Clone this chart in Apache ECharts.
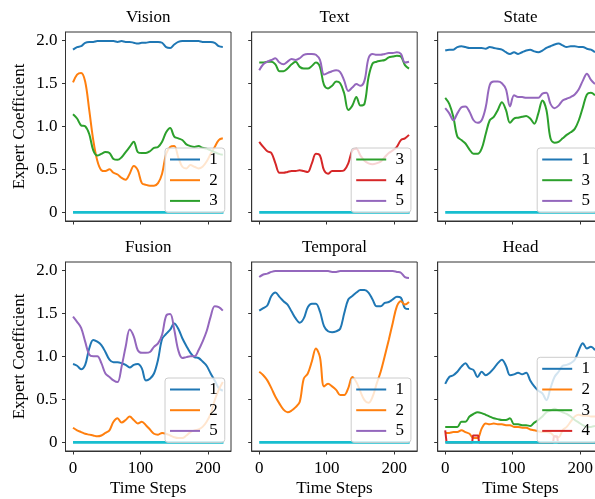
<!DOCTYPE html>
<html>
<head>
<meta charset="utf-8">
<title>Expert Coefficient</title>
<script src="https://cdn.jsdelivr.net/npm/echarts@6/dist/echarts.min.js"></script>
<style>
html,body{margin:0;padding:0;background:#fff;}
#chart{width:595px;height:499px;}
</style>
</head>
<body>
<div id="chart"></div>
<script>
// sampled time steps (every 6 steps)
var steps = [0,6,12,18,24,30,36,42,48,54,60,66,72,78,84,90,96,102,108,114,120,126,132,138,144,150,156,162,168,174,180,186,192,198,204,210,216,222];

var panelTitles = ['Vision','Text','State','Fusion','Temporal','Head'];
var xTickValues = [0,100,200];
var xTickLabels = ['0','100','200'];
var yTickValues = [0,0.5,1,1.5,2];
var yTickLabels = ['0','0.5','1.0','1.5','2.0'];

// Vision
var vision1 = [1.89,1.92,1.93,1.97,1.98,1.98,1.99,1.99,1.99,1.99,1.99,1.98,1.99,1.98,1.98,1.97,1.96,1.97,1.97,1.98,1.98,1.98,1.97,1.92,1.91,1.95,1.98,1.99,1.99,1.99,1.99,1.99,1.98,1.98,1.98,1.97,1.93,1.92];
var vision2 = [1.51,1.60,1.62,1.52,1.19,0.84,0.60,0.49,0.48,0.50,0.46,0.44,0.40,0.38,0.45,0.54,0.49,0.34,0.32,0.31,0.31,0.34,0.45,0.68,0.76,0.77,0.64,0.53,0.51,0.55,0.53,0.51,0.53,0.59,0.68,0.76,0.84,0.86];
var vision3 = [1.14,1.09,1.01,1.00,0.91,0.72,0.66,0.68,0.70,0.69,0.62,0.61,0.64,0.70,0.76,0.82,0.70,0.69,0.69,0.71,0.75,0.76,0.82,0.93,0.98,0.88,0.86,0.84,0.79,0.77,0.76,0.77,0.75,0.74,0.72,0.70,0.68,0.67];

// Text
var text3 = [1.74,1.74,1.75,1.75,1.72,1.64,1.64,1.67,1.72,1.75,1.69,1.67,1.67,1.70,1.74,1.69,1.48,1.44,1.47,1.52,1.50,1.38,1.19,1.24,1.34,1.24,1.26,1.57,1.73,1.75,1.76,1.77,1.80,1.81,1.82,1.81,1.71,1.67];
var text4 = [0.82,0.76,0.71,0.69,0.57,0.46,0.46,0.47,0.48,0.48,0.49,0.48,0.47,0.57,0.68,0.66,0.49,0.45,0.48,0.48,0.48,0.49,0.57,0.72,0.74,0.66,0.60,0.57,0.56,0.57,0.59,0.64,0.69,0.72,0.76,0.84,0.86,0.90];
var text5 = [1.65,1.72,1.75,1.77,1.79,1.74,1.72,1.75,1.78,1.77,1.79,1.83,1.84,1.84,1.83,1.77,1.60,1.62,1.64,1.65,1.63,1.53,1.41,1.45,1.49,1.47,1.53,1.79,1.84,1.83,1.83,1.84,1.85,1.85,1.86,1.84,1.74,1.75];

// State
var state1 = [1.88,1.89,1.89,1.92,1.93,1.92,1.91,1.91,1.91,1.91,1.90,1.92,1.91,1.90,1.89,1.86,1.84,1.86,1.84,1.86,1.88,1.89,1.87,1.86,1.88,1.91,1.93,1.95,1.96,1.94,1.92,1.93,1.93,1.92,1.92,1.90,1.89,1.86];
var state3 = [1.33,1.26,1.11,0.88,0.84,0.80,0.73,0.68,0.68,0.74,0.91,1.07,1.11,1.19,1.28,1.19,1.04,1.09,1.10,1.11,1.12,1.09,1.03,1.15,1.30,1.19,0.86,0.81,0.82,0.86,0.90,0.93,0.97,1.07,1.22,1.37,1.39,1.36];
var state5 = [1.21,1.15,1.07,1.15,1.22,1.23,1.17,1.07,1.04,1.07,1.22,1.48,1.52,1.52,1.50,1.43,1.23,1.36,1.34,1.34,1.33,1.33,1.33,1.33,1.38,1.39,1.26,1.21,1.24,1.30,1.32,1.34,1.37,1.43,1.53,1.61,1.54,1.49];

// Fusion
var fusion1 = [0.91,0.89,0.85,0.90,1.09,1.19,1.17,1.13,1.05,0.96,0.93,0.93,0.92,0.90,0.87,0.90,0.91,0.86,0.72,0.74,0.80,0.96,1.20,1.26,1.31,1.38,1.32,1.21,1.12,1.04,0.99,0.98,0.94,0.89,0.80,0.72,0.63,0.60];
var fusion2 = [0.17,0.14,0.12,0.10,0.09,0.08,0.07,0.08,0.11,0.14,0.24,0.28,0.23,0.26,0.30,0.26,0.22,0.24,0.20,0.15,0.10,0.09,0.11,0.10,0.08,0.06,0.05,0.05,0.08,0.12,0.14,0.15,0.18,0.24,0.33,0.49,0.61,0.70];
var fusion5 = [1.46,1.40,1.33,1.17,1.02,1.00,1.00,0.92,0.80,0.76,0.72,0.70,0.88,1.11,1.31,1.23,1.07,1.04,1.04,1.05,1.11,1.15,1.25,1.47,1.49,1.31,1.07,0.98,0.99,1.00,1.00,1.07,1.17,1.29,1.46,1.58,1.57,1.53];

// Temporal
var temporal1 = [1.53,1.56,1.59,1.70,1.74,1.69,1.64,1.60,1.52,1.44,1.39,1.44,1.57,1.61,1.61,1.52,1.35,1.29,1.28,1.29,1.32,1.50,1.66,1.70,1.74,1.77,1.77,1.74,1.66,1.58,1.58,1.62,1.63,1.66,1.69,1.68,1.56,1.55];
var temporal2 = [0.82,0.78,0.72,0.63,0.53,0.45,0.38,0.35,0.37,0.41,0.47,0.74,0.80,0.94,1.09,0.99,0.65,0.68,0.65,0.61,0.55,0.55,0.63,0.76,0.70,0.59,0.49,0.46,0.53,0.68,0.82,1.00,1.19,1.39,1.58,1.64,1.60,1.63];
var temporal5 = [1.92,1.95,1.96,1.98,1.99,1.99,1.99,1.99,1.99,1.99,1.99,1.99,1.99,1.99,1.99,1.99,1.99,1.99,1.98,1.98,1.99,1.99,1.99,1.99,1.99,1.99,1.99,1.99,1.99,1.99,1.99,1.99,1.99,1.99,1.98,1.97,1.92,1.91];

// Head
var head1 = [0.68,0.76,0.78,0.82,0.88,0.92,0.86,0.84,0.76,0.82,0.78,0.81,0.86,0.92,0.96,0.89,0.78,0.79,0.81,0.79,0.81,0.72,0.65,0.60,0.57,0.49,0.63,0.76,0.82,0.89,0.90,0.92,0.96,1.07,1.15,1.09,1.11,1.07];
var head2 = [0.11,0.11,0.12,0.12,0.14,0.12,0.10,0.05,0.05,0.16,0.22,0.21,0.22,0.21,0.21,0.20,0.20,0.18,0.18,0.17,0.17,0.15,0.14,0.13,0.12,0.12,0.11,0.07,0.06,0.14,0.18,0.24,0.30,0.32,0.31,0.31,0.30,0.30];
var head3 = [0.18,0.18,0.18,0.18,0.24,0.24,0.30,0.33,0.35,0.34,0.32,0.30,0.28,0.27,0.26,0.26,0.28,0.21,0.21,0.20,0.20,0.19,0.23,0.26,0.30,0.35,0.37,0.39,0.37,0.35,0.33,0.30,0.26,0.23,0.20,0.18,0.18,0.19];
// expert 4 sits on zero except a few short bumps
var head4X = [0,1,2,40,41,49,50,160,161,166,167,223];
var head4Y = [0.14,0.14,0,0,0.08,0.08,0,0,0.07,0.07,0,0];

// remaining experts stay at zero the whole run
var zeroX = [0,223];
var zeroY = [0,0];

var expertColors = {'1':'#1f77b4','2':'#ff7f0e','3':'#2ca02c','4':'#d62728','5':'#9467bd','0':'#17becf'};

var panels = [
    {lines:[['1',steps,vision1],['2',steps,vision2],['3',steps,vision3]], legend:['1','2','3']},
    {lines:[['3',steps,text3],['4',steps,text4],['5',steps,text5]], legend:['3','4','5']},
    {lines:[['1',steps,state1],['3',steps,state3],['5',steps,state5]], legend:['1','3','5']},
    {lines:[['1',steps,fusion1],['2',steps,fusion2],['5',steps,fusion5]], legend:['1','2','5']},
    {lines:[['1',steps,temporal1],['2',steps,temporal2],['5',steps,temporal5]], legend:['1','2','5']},
    {lines:[['1',steps,head1],['2',steps,head2],['3',steps,head3],['4',head4X,head4Y]], legend:['1','2','3','4']}
];

var FONT = '"Liberation Serif", "DejaVu Serif", serif';
var colLeft = [65.5, 251.7, 437.7];
var rowTop = [32, 262];
var gw = 165.5, gh = 189;
var legendTop = [148, 378];

function pairs(xs, ys){
    return xs.map(function(x, i){ return [x, ys[i]]; });
}

var grids = [], xAxes = [], yAxes = [], series = [], titles = [], legends = [];

panels.forEach(function(p, i){
    var col = i % 3, row = Math.floor(i / 3);
    grids.push({
        left: colLeft[col], top: rowTop[row], width: gw, height: gh,
        show: true, borderColor: '#333', borderWidth: 1, backgroundColor: 'transparent',
        containLabel: false, outerBoundsMode: 'none'
    });
    xAxes.push({
        gridIndex: i, type: 'value', min: -11.15, max: 234.15,
        axisLine: {show: true, onZero: false, lineStyle: {color: '#333', width: 1}},
        splitLine: {show: false},
        axisTick: {show: true, length: 3.5, customValues: xTickValues, lineStyle: {color: '#333', width: 1}},
        axisLabel: {
            show: row === 1, customValues: xTickValues, margin: 9,
            color: '#000', fontFamily: FONT, fontSize: 17,
            formatter: function(v){ return xTickLabels[xTickValues.indexOf(v)]; }
        },
        name: row === 1 ? 'Time Steps' : '', nameLocation: 'middle', nameGap: 29,
        nameTextStyle: {color: '#000', fontFamily: FONT, fontSize: 17}
    });
    yAxes.push({
        gridIndex: i, type: 'value', min: -0.1, max: 2.095,
        axisLine: {show: true, onZero: false, lineStyle: {color: '#333', width: 1}},
        splitLine: {show: false},
        axisTick: {show: true, length: 3.5, customValues: yTickValues, lineStyle: {color: '#333', width: 1}},
        axisLabel: {
            show: col === 0, customValues: yTickValues, margin: 8,
            color: '#000', fontFamily: FONT, fontSize: 17,
            formatter: function(v){ return yTickLabels[yTickValues.indexOf(v)]; }
        },
        name: col === 0 ? 'Expert Coefficient' : '', nameLocation: 'middle', nameGap: 37,
        nameTextStyle: {color: '#000', fontFamily: FONT, fontSize: 17}
    });
    titles.push({
        text: panelTitles[i], left: colLeft[col] + gw / 2, top: row === 0 ? 9 : 239,
        textAlign: 'center', padding: 0,
        textStyle: {color: '#000', fontFamily: FONT, fontSize: 17, fontWeight: 'normal'}
    });
    p.lines.forEach(function(l){
        var isStep = l[1] !== steps;
        series.push({
            name: l[0], type: 'line', xAxisIndex: i, yAxisIndex: i,
            data: pairs(l[1], l[2]), symbol: 'none', smooth: isStep ? false : 0.35,
            lineStyle: {color: expertColors[l[0]], width: 2},
            itemStyle: {color: expertColors[l[0]]},
            clip: true, silent: true
        });
    });
    // zero line for unused experts
    series.push({
        name: 'rest', type: 'line', xAxisIndex: i, yAxisIndex: i,
        data: pairs(zeroX, zeroY), symbol: 'none',
        lineStyle: {color: expertColors['0'], width: 2.8},
        itemStyle: {color: expertColors['0']}, silent: true
    });
    var nItems = p.legend.length;
    legends.push({
        data: p.legend, orient: 'vertical', icon: 'rect',
        left: colLeft[col] + 99.5,
        top: legendTop[row] - (nItems - 3) * 20.7,
        itemWidth: 30, itemHeight: 2, itemGap: 3.7,
        padding: [3, 7, 3, 5],
        backgroundColor: 'rgba(255,255,255,0.8)', borderColor: '#cccccc', borderWidth: 1, borderRadius: 3,
        formatter: function(name){ return ' ' + name; },
        textStyle: {color: '#000', fontFamily: FONT, fontSize: 17},
        selectedMode: false
    });
});

var chart = echarts.init(document.getElementById('chart'), null, {renderer: 'canvas'});
chart.setOption({
    animation: false,
    backgroundColor: '#fff',
    title: titles,
    grid: grids,
    xAxis: xAxes,
    yAxis: yAxes,
    legend: legends,
    series: series
});
</script>
</body>
</html>
